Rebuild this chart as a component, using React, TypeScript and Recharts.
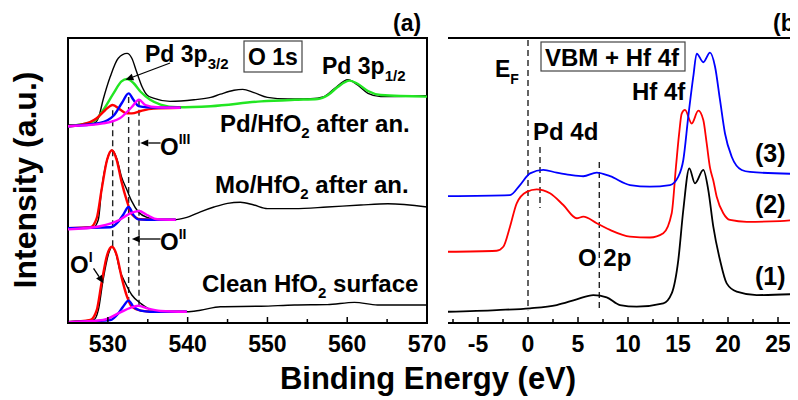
import React from 'react'
import { LineChart, Line, XAxis, YAxis, ReferenceLine, ReferenceArea } from 'recharts'

const FONT = '"Liberation Sans", Arial, sans-serif'

// ---- panel (a): O 1s region, binding energy (eV) vs intensity (a.u.)
const A_TICKS = [525, 530, 535, 540, 545, 550, 555, 560, 565, 570]
const A_MAJOR = [530, 540, 550, 560, 570]
const A_YTICKS = Array.from({ length: 36 }, (_, i) => i)

// Pd/HfO2 after anneal
const pdRaw = [[525, 24.75], [528.2, 24.96], [528.8, 25.6], [529.4, 27.9], [530.3, 30.8], [531.3, 33.1], [532.4, 33.7], [533.0, 33.1], [533.6, 31.4], [534.3, 29.5], [534.9, 28.5], [535.7, 28.1], [537.8, 27.7], [540.8, 27.9], [542.9, 28.2], [544.1, 28.6], [545.8, 29.1], [546.9, 29.2], [548.3, 28.8], [550.0, 28.2], [552.5, 28.0], [555.4, 28.04], [557.1, 28.3], [558.4, 29.3], [560.1, 30.4], [561.3, 29.75], [562.6, 28.7], [564.2, 28.3], [570, 28.4]]
const pdPd3p = [[525, 24.6], [528.2, 25.2], [529.4, 26.6], [530.7, 28.7], [531.7, 30.2], [532.4, 30.5], [533.2, 30.0], [534.1, 28.9], [535.3, 27.9], [536.6, 27.3], [538.7, 26.96], [542.9, 27.1], [549.2, 27.7], [553.4, 27.9], [556.3, 28.0], [557.6, 28.5], [558.8, 29.5], [560.3, 30.3], [561.3, 29.9], [562.6, 29.0], [564.2, 28.5], [570, 28.3]]
const pdOI = [[525, 24.6], [526.5, 24.75], [528.6, 25.6], [529.65, 26.6], [530.6, 27.25], [531.5, 26.7], [532.4, 26.2], [533.0, 26.2], [534.1, 26.5], [535.7, 26.8], [539.1, 26.9]]
const pdOII = [[525, 24.6], [529.0, 25.0], [530.7, 25.9], [531.75, 27.5], [532.6, 28.7], [533.2, 27.9], [533.85, 27.1], [534.9, 26.96], [539.1, 26.9]]
const pdOIII = [[525, 24.6], [529.4, 24.96], [531.5, 25.6], [533.0, 27.0], [533.9, 27.9], [534.7, 27.25], [536.2, 26.96], [539.1, 26.9]]

// Mo/HfO2 after anneal
const moRaw = [[525, 11.84], [528.2, 11.96], [528.8, 12.9], [529.2, 16.6], [529.9, 20.4], [530.5, 21.6], [531.1, 20.6], [531.7, 18.3], [532.4, 16.6], [533.0, 15.2], [533.8, 13.9], [534.9, 13.2], [536.6, 12.9], [538.2, 12.9], [539.9, 13.2], [541.6, 13.9], [543.3, 14.5], [545.0, 14.96], [546.6, 15.1], [548.3, 14.75], [550.0, 14.3], [553.4, 14.3], [557.5, 14.5], [561.7, 14.75], [565.1, 14.9], [570, 14.5]]
const moOI = [[525, 11.84], [527.8, 11.96], [528.6, 13.1], [529.2, 16.6], [529.9, 20.4], [530.5, 21.6], [531.1, 20.4], [531.7, 17.7], [532.4, 15.2], [533.0, 13.6], [534.1, 12.96], [535.7, 12.9], [538.5, 12.9]]
const moOII = [[525, 11.84], [530.3, 11.96], [531.3, 12.66], [531.9, 13.5], [532.6, 14.5], [533.2, 13.5], [533.8, 12.96], [534.9, 12.9], [538.5, 12.9]]
const moOIII = [[525, 11.7], [529.0, 12.1], [531.5, 12.9], [532.8, 13.7], [533.9, 14.0], [534.9, 13.5], [536.2, 12.96], [538.5, 12.9]]

// clean HfO2 surface
const hfRaw = [[525, 0.17], [528.2, 0.375], [528.8, 1.6], [529.4, 5.4], [530.1, 8.7], [530.5, 9.54], [531.0, 8.7], [531.5, 6.6], [532.2, 4.96], [533.0, 3.5], [534.1, 2.46], [535.3, 1.7], [537.4, 1.4], [539.9, 1.4], [541.6, 1.6], [544.1, 2.04], [549.2, 2.1], [553.4, 2.25], [557.5, 2.3], [560.9, 2.58], [563.8, 2.25], [570, 2.25]]
const hfOI = [[525, 0.1], [527.8, 0.375], [528.6, 1.6], [529.2, 4.96], [529.9, 8.5], [530.5, 9.54], [531.1, 8.5], [531.7, 5.8], [532.4, 3.3], [533.0, 2.04], [534.1, 1.54], [535.7, 1.4], [539.9, 1.4]]
const hfOII = [[525, 0.1], [530.3, 0.375], [531.3, 1.2], [531.9, 2.04], [532.6, 2.8], [533.2, 2.04], [534.1, 1.54], [535.3, 1.4], [539.9, 1.4]]
const hfOIII = [[525, 0.1], [529.4, 0.375], [531.5, 1.3], [532.8, 1.9], [533.8, 2.16], [534.9, 1.83], [536.6, 1.5], [539.9, 1.4]]

// component positions (eV) with the span of each marker
const aMarkers = [[530.6, 26.6, 9.6], [532.6, 28.25, 2.9], [533.9, 27.9, 2.25]]
const aArrows = [[537.8, 32.5, 532.2, 30.4], [536.6, 22.5, 534.06, 22.5], [536.6, 10.5, 533.0, 10.5], [528.2, 6.84, 529.44, 4.96]]

// ---- panel (b): VBM + Hf 4f
const B_TICKS = [-7.5, -5, -2.5, 0, 2.5, 5, 7.5, 10, 12.5, 15, 17.5, 20, 22.5, 25]
const B_MAJOR = [-5, 0, 5, 10, 15, 20, 25]
const B_YTICKS = Array.from({ length: 20 }, (_, i) => i)

const vb1 = [[-8, 0.79], [-3.13, 0.91], [0.2, 1.03], [2.87, 1.26], [4.87, 1.66], [6.53, 1.96], [7.87, 1.8], [9.2, 1.26], [10.87, 1.15], [13.53, 1.38], [14.37, 2.08], [15.03, 4.42], [15.53, 7.93], [16.13, 10.85], [16.7, 9.8], [17.53, 10.74], [18.03, 9.33], [18.53, 6.76], [19.2, 4.42], [19.87, 2.78], [20.87, 2.2], [22.87, 1.96], [27, 2.04]]
const vb2 = [[-8, 5.0], [-3.13, 5.07], [-2.47, 5.35], [-1.8, 6.76], [-1.13, 8.4], [-0.13, 9.2], [0.87, 9.38], [2.2, 9.1], [3.53, 8.28], [4.87, 7.35], [5.53, 7.46], [6.87, 7.0], [8.2, 6.53], [10.2, 6.06], [12.2, 6.0], [13.53, 6.3], [14.37, 7.7], [14.8, 11.0], [15.1, 13.2], [15.37, 14.7], [15.7, 14.95], [16.37, 14.0], [17.03, 14.9], [17.53, 14.25], [17.87, 12.6], [18.2, 10.9], [18.53, 10.0], [18.87, 8.86], [19.53, 7.7], [20.2, 7.23], [21.87, 7.1], [25.2, 7.15], [27, 7.27]]
const vb3 = [[-8, 8.91], [-1.8, 8.98], [-0.8, 9.68], [0.2, 10.5], [1.53, 10.74], [2.87, 10.55], [4.2, 10.39], [5.53, 10.3], [6.87, 10.55], [8.2, 10.3], [10.2, 9.68], [12.2, 9.57], [14.2, 9.68], [15.03, 10.27], [15.53, 11.44], [16.03, 14.5], [16.53, 17.3], [16.87, 18.9], [17.53, 18.3], [18.2, 18.97], [18.7, 18.0], [19.2, 15.65], [19.7, 13.3], [20.37, 11.67], [21.37, 10.74], [22.2, 10.6], [27, 10.46]]

const bMarkers = [[0, 19.86, 0.9], [1.2, 12.35, 8.07], [7.13, 11.3, 1.05]]

const rows = (pts: number[][]) => pts.map(([e, v]) => ({ e, v }))

function XTick(props: any) {
  const { x, y, payload, majors } = props
  const major = majors.includes(payload.value)
  return (
    <g>
      <line x1={x} x2={x} y1={y} y2={y - (major ? 6 : 4)} stroke="#000" strokeWidth={1.5} />
      {major && (
        <text x={x} y={y + 29} textAnchor="middle" fontSize={23} fontWeight="bold" fontFamily={FONT} fill="#000">
          {payload.value}
        </text>
      )}
    </g>
  )
}

function YTick(props: any) {
  const { x, y, payload, longTick } = props
  const len = longTick(payload.value) ? 6 : 4
  return <line x1={x} x2={x + len} y1={y} y2={y} stroke="#000" strokeWidth={1.5} />
}

function ArrowShape(p: any) {
  const { x1, y1, x2, y2 } = p
  const ang = Math.atan2(y2 - y1, x2 - x1)
  const bx = x2 - 8 * Math.cos(ang)
  const by = y2 - 8 * Math.sin(ang)
  const s = Math.sin(ang), c = Math.cos(ang)
  const pts = `${x2},${y2} ${bx + 3.5 * s},${by - 3.5 * c} ${bx - 3.5 * s},${by + 3.5 * c}`
  return (
    <g>
      <line x1={x1} y1={y1} x2={bx} y2={by} stroke="#000" strokeWidth={1.3} />
      <polygon points={pts} fill="#000" />
    </g>
  )
}

const dash = { stroke: '#222', strokeWidth: 1.4, strokeDasharray: '6 4' }

function PanelA() {
  const fit = (data: number[][], color: string) => (
    <Line data={rows(data)} dataKey="v" type="monotone" stroke={color} strokeWidth={2.4} dot={false} isAnimationActive={false} />
  )
  const raw = (data: number[][]) => (
    <Line data={rows(data)} dataKey="v" type="monotone" stroke="#000" strokeWidth={1.4} dot={false} isAnimationActive={false} />
  )
  return (
    <LineChart width={455} height={400} margin={{ top: 38, right: 28, bottom: 47, left: 68 }}>
      <XAxis type="number" dataKey="e" domain={[525, 570]} ticks={A_TICKS} interval={0} allowDataOverflow
        height={30} tickSize={0} tickMargin={0} axisLine={{ stroke: '#000', strokeWidth: 2 }}
        tick={(p: any) => <XTick {...p} majors={A_MAJOR} />} />
      <YAxis type="number" dataKey="v" domain={[0, 35.625]} ticks={A_YTICKS} interval={0} allowDataOverflow
        width={0} tickSize={0} tickMargin={0} axisLine={{ stroke: '#000', strokeWidth: 2 }}
        tick={(p: any) => <YTick {...p} longTick={(v: number) => v % 2 === 1} />} />
      <ReferenceArea x1={525} x2={570} y1={0} y2={35.625} fill="none" stroke="#000" strokeWidth={2} />
      {aMarkers.map(([e, y1, y2], i) => (
        <ReferenceLine key={'m' + i} segment={[{ x: e, y: y1 }, { x: e, y: y2 }]} {...dash} />
      ))}
      {raw(pdRaw)}
      {fit(pdPd3p, '#22e622')}
      {fit(pdOI, '#ff0000')}
      {fit(pdOII, '#0000ff')}
      {fit(pdOIII, '#ff00ff')}
      {raw(moRaw)}
      {fit(moOI, '#ff0000')}
      {fit(moOII, '#0000ff')}
      {fit(moOIII, '#ff00ff')}
      {raw(hfRaw)}
      {fit(hfOI, '#ff0000')}
      {fit(hfOII, '#0000ff')}
      {fit(hfOIII, '#ff00ff')}
      {aArrows.map(([xa, ya, xb, yb], i) => (
        <ReferenceLine key={'a' + i} segment={[{ x: xa, y: ya }, { x: xb, y: yb }]} shape={ArrowShape} />
      ))}
    </LineChart>
  )
}

function PanelB() {
  const spec = (data: number[][], color: string) => (
    <Line data={rows(data)} dataKey="v" type="monotone" stroke={color} strokeWidth={1.8} dot={false} isAnimationActive={false} />
  )
  return (
    <LineChart width={370} height={400} margin={{ top: 38, right: 2, bottom: 47, left: 18 }}>
      <XAxis type="number" dataKey="e" domain={[-8, 27]} ticks={B_TICKS} interval={0} allowDataOverflow
        height={30} tickSize={0} tickMargin={0} axisLine={{ stroke: '#000', strokeWidth: 2 }}
        tick={(p: any) => <XTick {...p} majors={B_MAJOR} />} />
      <YAxis type="number" dataKey="v" domain={[0, 20]} ticks={B_YTICKS} interval={0} allowDataOverflow
        width={0} tickSize={0} tickMargin={0} axisLine={{ stroke: '#000', strokeWidth: 2 }}
        tick={(p: any) => <YTick {...p} longTick={(v: number) => v % 2 === 1} />} />
      <ReferenceLine y={20} stroke="#000" strokeWidth={2} />
      {bMarkers.map(([e, y1, y2], i) => (
        <ReferenceLine key={'m' + i} segment={[{ x: e, y: y1 }, { x: e, y: y2 }]} {...dash} />
      ))}
      {spec(vb1, '#000000')}
      {spec(vb2, '#ff0000')}
      {spec(vb3, '#0000ff')}
    </LineChart>
  )
}

const T = (p: any) => (
  <text fontFamily={FONT} fontWeight="bold" fill="#000" fontSize={24} {...p} />
)

export default function App() {
  return (
    <div style={{ position: 'relative', width: 798, height: 400, margin: '-8px 0 0 -8px', overflow: 'hidden', background: '#fff' }}>
      <div style={{ position: 'absolute', left: 0, top: 0 }}><PanelA /></div>
      <div style={{ position: 'absolute', left: 430, top: 0 }}><PanelB /></div>
      <svg width={798} height={400} style={{ position: 'absolute', left: 0, top: 0, pointerEvents: 'none' }}>
        <T x={393} y={31} fontSize={23}>(a)</T>
        <T x={773} y={31} fontSize={23}>(b)</T>
        <T x={145} y={62} fontSize={23}>Pd 3p<tspan fontSize={15} dy={7}>3/2</tspan></T>
        <rect x={244} y={41} width={58} height={31} fill="none" stroke="#444" strokeWidth={1.2} />
        <T x={248} y={65} fontSize={23}>O 1s</T>
        <T x={322} y={74} fontSize={23}>Pd 3p<tspan fontSize={15} dy={7}>1/2</tspan></T>
        <T x={220} y={132}>Pd/HfO<tspan fontSize={15} dy={6}>2</tspan><tspan dy={-6}>{' after an.'}</tspan></T>
        <T x={160} y={155}>O<tspan fontSize={14} dy={-11}>III</tspan></T>
        <T x={215} y={193}>Mo/HfO<tspan fontSize={15} dy={6}>2</tspan><tspan dy={-6}>{' after an.'}</tspan></T>
        <T x={160} y={250}>O<tspan fontSize={14} dy={-11}>II</tspan></T>
        <T x={70} y={273}>O<tspan fontSize={14} dy={-11}>I</tspan></T>
        <T x={202} y={292}>Clean HfO<tspan fontSize={15} dy={6}>2</tspan><tspan dy={-6}>{' surface'}</tspan></T>
        <T x={495} y={77} fontSize={23}>E<tspan fontSize={14} dy={7}>F</tspan></T>
        <rect x={541} y={42} width={144} height={29} fill="none" stroke="#444" strokeWidth={1.2} />
        <T x={545} y={66}>VBM + Hf 4f</T>
        <T x={632} y={100}>Hf 4f</T>
        <T x={533} y={140}>Pd 4d</T>
        <T x={755} y={162} fontSize={25}>(3)</T>
        <T x={755} y={213} fontSize={25}>(2)</T>
        <T x={755} y={285} fontSize={25}>(1)</T>
        <T x={578} y={266}>O 2p</T>
        <T x={428} y={389} fontSize={31} textAnchor="middle">Binding Energy (eV)</T>
        <T transform="translate(36,180) rotate(-90)" x={0} y={0} fontSize={32} textAnchor="middle">Intensity (a.u.)</T>
      </svg>
    </div>
  )
}
